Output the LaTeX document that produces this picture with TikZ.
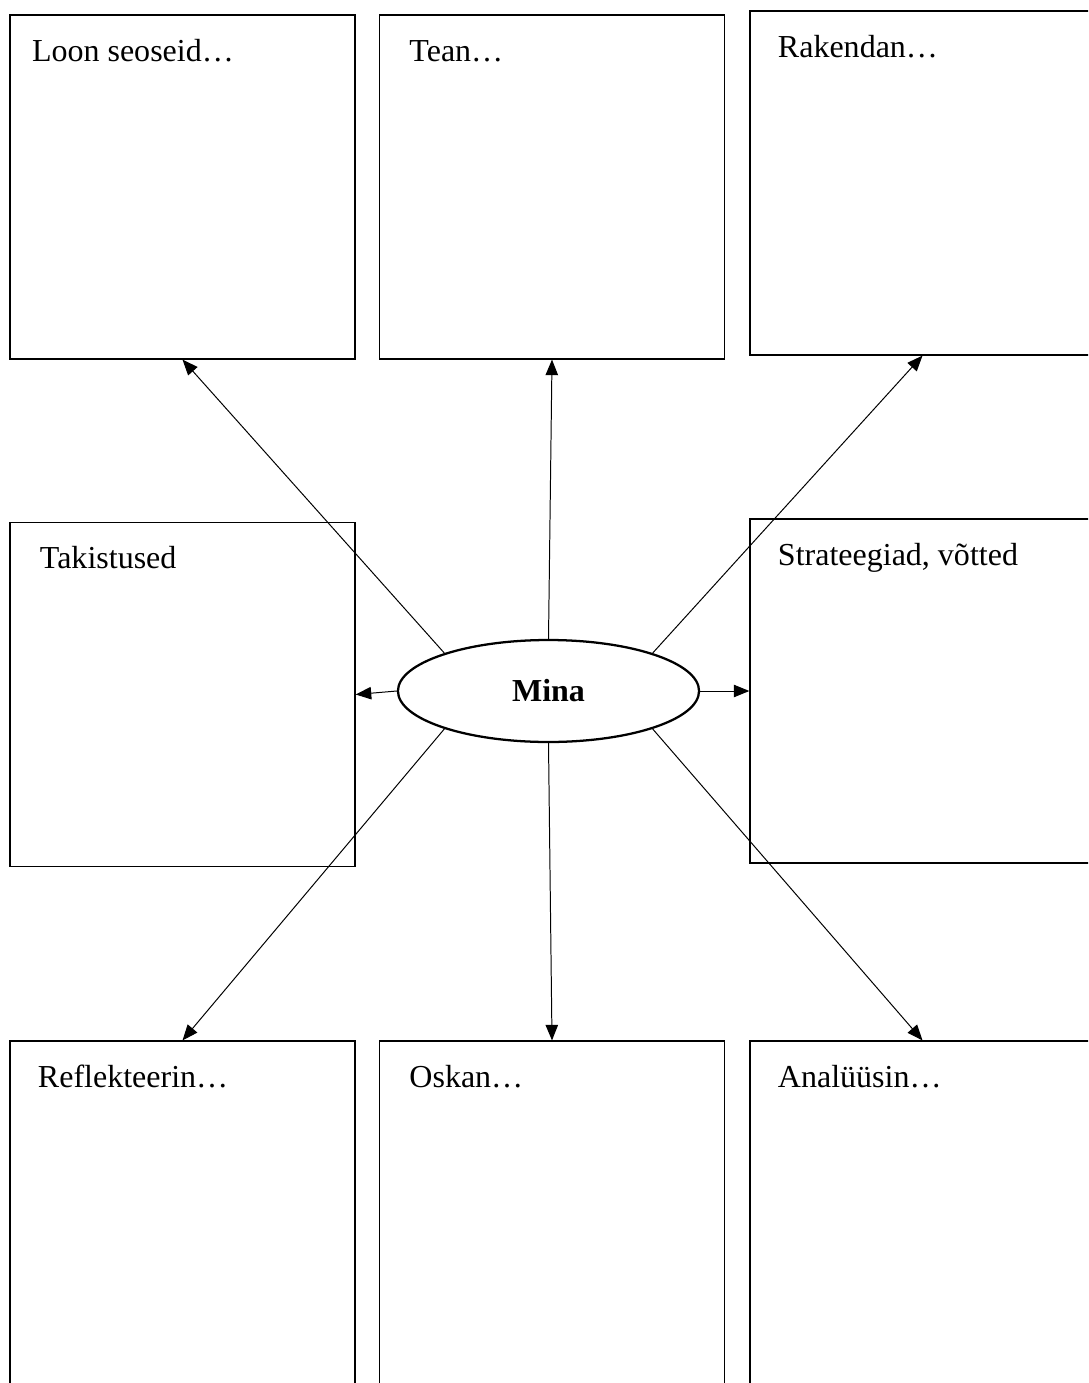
\documentclass[tikz,border=0pt]{standalone}
\usepackage{fontspec}
\setmainfont{Liberation Serif}
\usetikzlibrary{arrows.meta,shapes.geometric}
\begin{document}
\begin{tikzpicture}
[ x=0.353pt, y=-0.353pt,
  every node/.style = {font=\fontsize{11.3}{13.5}\selectfont},
  box/.style = {draw, line width=0.45pt, rectangle, inner sep=0pt,
	minimum width=121.8pt, minimum height=121.4pt},
  boxtext/.style = {anchor=base west, inner sep=0pt},
  link/.style = {line width=0.35pt, -{Triangle[length=5.5pt,width=4.4pt]}}]

  \useasboundingbox (0,0) rectangle (1088,1383);
  \clip (0,0) rectangle (1088,1383);

  % kastid
  \node[box] (loon) at (182.5,187) {};
  \node[box] (tean) at (552,187) {};
  \node[box] (rakendan) at (922.5,183) {};
  \node[box] (takistused) at (182.5,694.5) {};
  \node[box] (strateegiad) at (922.5,691) {};
  \node[box] (reflekteerin) at (182.5,1213) {};
  \node[box] (oskan) at (552,1213) {};
  \node[box] (analuusin) at (922.5,1213) {};

  \node[boxtext] (loon-t) at ([xshift=7.8pt,yshift=-16.6pt]loon.north west) {Loon seoseid…};
  \node[boxtext] (tean-t) at ([xshift=10.6pt,yshift=-16.6pt]tean.north west) {Tean…};
  \node[boxtext] (rakendan-t) at ([xshift=9.9pt,yshift=-16.6pt]rakendan.north west) {Rakendan…};
  \node[boxtext] (takistused-t) at ([xshift=10.6pt,yshift=-16.6pt]takistused.north west) {Takistused};
  \node[boxtext] (strateegiad-t) at ([xshift=9.9pt,yshift=-16.6pt]strateegiad.north west) {Strateegiad, võtted};
  \node[boxtext] (reflekteerin-t) at ([xshift=9.9pt,yshift=-16.6pt]reflekteerin.north west) {Reflekteerin…};
  \node[boxtext] (oskan-t) at ([xshift=10.6pt,yshift=-16.6pt]oskan.north west) {Oskan…};
  \node[boxtext] (analuusin-t) at ([xshift=9.9pt,yshift=-16.6pt]analuusin.north west) {Analüüsin…};

  % keskmine ellips
  \node[draw, ellipse, line width=0.8pt, inner sep=0pt, fill=white,
	minimum width=106.3pt, minimum height=36pt] (mina) at (548.5,691) {\textbf{Mina}};

  \draw[link] (mina.160) -- (loon.south);
  \draw[link] (mina.north) -- (tean.south);
  \draw[link] (mina.20) -- (rakendan.south);
  \draw[link] (mina.west) -- (takistused.east);
  \draw[link] (mina.east) -- (strateegiad.west);
  \draw[link] (mina.200) -- (reflekteerin.north);
  \draw[link] (mina.south) -- (oskan.north);
  \draw[link] (mina.340) -- (analuusin.north);
\end{tikzpicture}
\end{document}
